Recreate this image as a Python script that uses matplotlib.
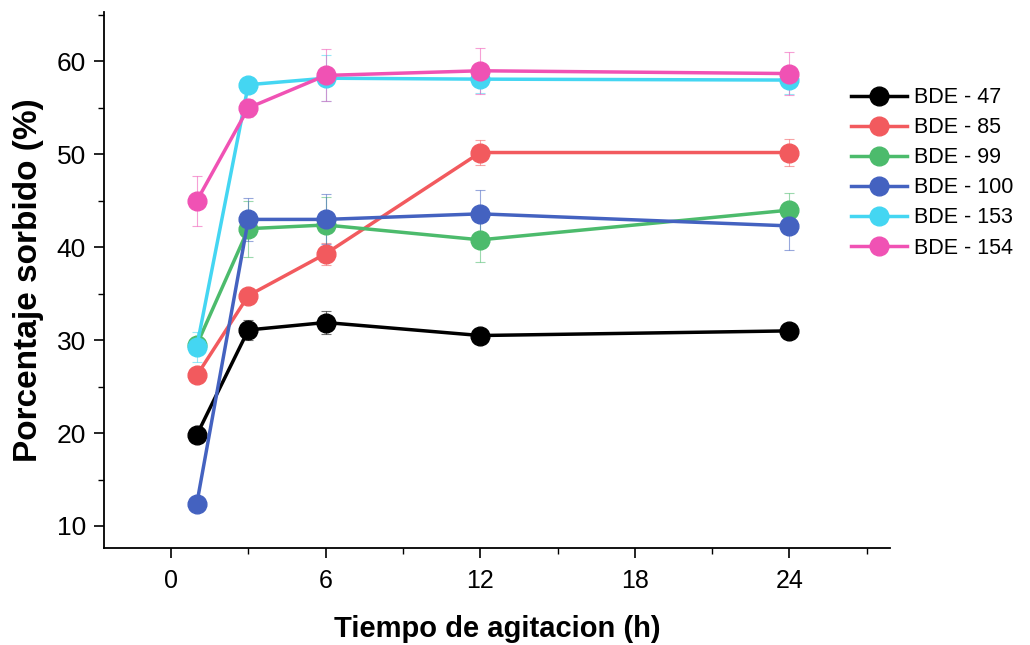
import matplotlib
matplotlib.use("Agg")
import matplotlib.pyplot as plt
from matplotlib.ticker import MultipleLocator
from matplotlib import font_manager

# Agitation time (h)
tiempo = [1, 3, 6, 12, 24]

# Percentage sorbed per congener
bde47 = [19.8, 31.1, 31.9, 30.5, 31.0]
bde85 = [26.2, 34.8, 39.3, 50.2, 50.2]
bde99 = [29.5, 42.0, 42.4, 40.8, 44.0]
bde100 = [12.4, 43.0, 43.0, 43.6, 42.3]
bde153 = [29.3, 57.5, 58.2, 58.1, 58.0]
bde154 = [45.0, 55.0, 58.5, 59.0, 58.7]

# Standard deviations
err47 = [0.3, 1.1, 1.2, 0.3, 0.3]
err85 = [0.4, 0.5, 1.2, 1.3, 1.5]
err99 = [0.5, 3.0, 3.0, 2.4, 1.8]
err100 = [0.3, 2.3, 2.7, 2.6, 2.6]
err153 = [1.6, 0.6, 2.5, 1.5, 1.5]
err154 = [2.7, 1.0, 2.8, 2.5, 2.3]

nombres = ["BDE - 47", "BDE - 85", "BDE - 99", "BDE - 100", "BDE - 153", "BDE - 154"]
colores = ["#000000", "#f25a5e", "#4cbb6c", "#4462c0", "#44d6f2", "#f052b4"]

series = [bde47, bde85, bde99, bde100, bde153, bde154]
errores = [err47, err85, err99, err100, err153, err154]

avail = {f.name for f in font_manager.fontManager.ttflist}
plt.rcParams["font.family"] = "Liberation Sans" if "Liberation Sans" in avail else "DejaVu Sans"

fig = plt.figure(figsize=(10.30, 6.45), dpi=100)
ax = fig.add_axes([0.101, 0.150, 0.763, 0.831])

handles = []
for y, e, c, n in zip(series, errores, colores, nombres):
    ax.errorbar(tiempo, y, yerr=e, fmt="none", ecolor=c, elinewidth=0.8,
                capsize=3.5, capthick=0.8, alpha=0.55, zorder=2)
    h, = ax.plot(tiempo, y, "-o", color=c, lw=2.5, markersize=13.5,
                 label=n, zorder=3)
    handles.append(h)

ax.set_xlim(-2.6, 27.9)
ax.set_ylim(7.6, 65.3)
ax.xaxis.set_major_locator(MultipleLocator(6))
ax.xaxis.set_minor_locator(MultipleLocator(3))
ax.yaxis.set_major_locator(MultipleLocator(10))
ax.yaxis.set_minor_locator(MultipleLocator(5))

for s in ["top", "right"]:
    ax.spines[s].set_visible(False)
for s in ["left", "bottom"]:
    ax.spines[s].set_linewidth(1.3)

ax.tick_params(which="major", direction="out", length=7, width=1.2, pad=6)
ax.tick_params(axis="y", which="major", labelsize=19)
ax.tick_params(axis="x", which="major", labelsize=18, pad=8)
ax.tick_params(which="minor", direction="out", length=4, width=1.0)

ax.set_xlabel("Tiempo de agitacion (h)", fontsize=21, fontweight="bold", labelpad=16)
ax.set_ylabel("Porcentaje sorbido (%)", fontsize=24, fontweight="bold", labelpad=9)

fig.legend(handles=handles, loc="upper left", bbox_to_anchor=(0.818, 0.878),
           frameon=False, fontsize=15.5, handlelength=2.6, handletextpad=0.3,
           labelspacing=0.42, borderaxespad=0)

fig.savefig("out.png", dpi=100)
